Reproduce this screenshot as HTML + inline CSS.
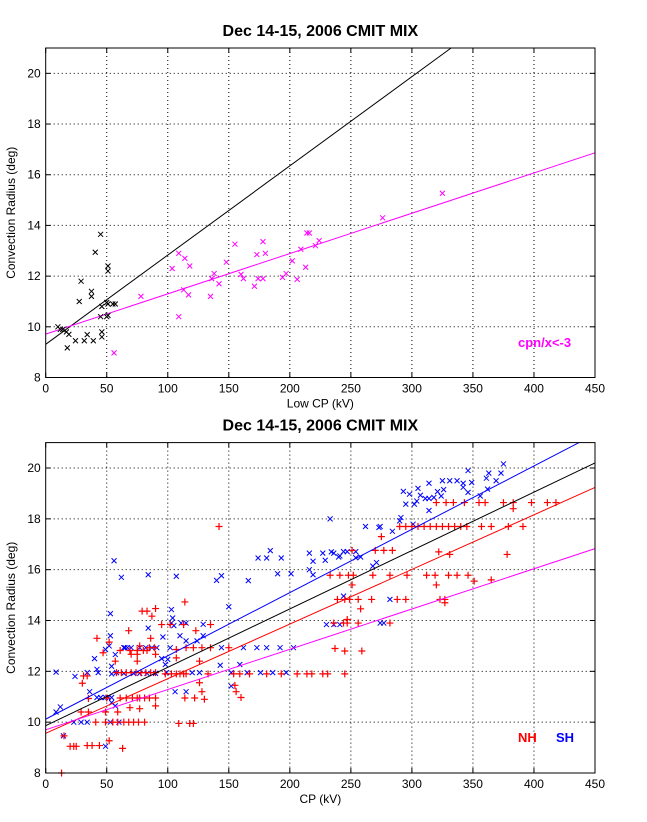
<!DOCTYPE html>
<html><head><meta charset="utf-8"><style>
body{margin:0;background:#fff}
svg{display:block;font-family:"Liberation Sans",Arial,sans-serif}
</style></head><body>
<svg id="c" width="647" height="822"></svg>
<script>
// ---- data ----
const xTicks=[0,50,100,150,200,250,300,350,400,450];
const yTicks=[8,10,12,14,16,18,20];
const topTitle="Dec 14-15, 2006 CMIT MIX";
const botTitle="Dec 14-15, 2006 CMIT MIX";
const topBlackX=[45,40.6,51,51,29,37.5,37.5,27.5,50,46,51,55,57,45,50,51,14,17,19,46,46,34,24.4,31.6,39,17.7,10,12];
const topBlackY=[13.65,12.94,12.4,12.2,11.8,11.4,11.2,11.0,10.96,10.8,10.9,10.9,10.9,10.4,10.4,10.45,9.9,9.8,9.7,9.8,9.6,9.69,9.45,9.45,9.45,9.17,10.0,9.9];
const topMagX=[56,78,103.6,109,114,118,113,117,109,135,136,138,142,148,155,160,162,171,173,178,180,174,178,194,197,202,209,213,206,214,216,221,224,325,276];
const topMagY=[8.97,11.2,12.3,12.9,12.7,12.4,11.46,11.26,10.4,11.2,11.9,12.1,11.7,12.55,13.26,12.07,11.9,11.6,12.85,13.36,12.9,11.9,11.9,11.95,12.1,12.6,13.06,12.35,11.87,13.7,13.7,13.2,13.4,15.27,14.3];
const topBlackLine=[9.31,0.0352];
const topMagLine=[9.71,0.0159];
const blueX=[375,363,361,369,373,346,349,325,331,337,342,342,314,305,293,298,307,311,314,318,321,324,326,295,302,304,314,346,356,362,290,291,262,273,274,284,301,233,234,241,244,247,254,254,258,268,271,244,282,274,277,
184,174,181,193,216,227,229,219,236,240,56,62,84,107,140,144,166,190,201,216,219,150,53,103,104,103,111,115,105,129,84,110,115,124,129,96,53,49,52,40,64,65,67,70,77,82,87,91,102,57,95,98,100,
42,43,54,54,58,64,72,77,83,90,99,120,143,152,165,176,186,197,162,173,181,192,203,230,236,241,152,159,144,126,8.5,24,34,36,42,45,49,51,54,12,8.5,23,29,34,53,60,14.5,49,106,115,54,57];
const blueY=[20.16,19.8,19.6,19.5,19.8,19.9,19.43,19.5,19.5,19.5,19.4,19.24,19.4,19.2,19.08,18.97,18.93,18.8,18.8,18.84,19.07,18.9,19.15,18.58,18.58,18.7,18.33,19.04,18.9,19.17,17.92,18.05,17.7,17.66,17.7,17.51,17.79,18,16.7,16.54,16.71,16.71,16.71,16.47,16.5,16.14,16.28,14.96,14.83,13.9,13.9,
16.75,16.46,16.46,16.46,16.65,16.65,16.37,16.33,16.65,16.5,16.35,15.7,15.8,15.74,15.58,15.76,15.57,15.84,15.84,16,15.8,14.54,14.27,14.43,14.1,13.9,13.9,13.9,13.8,13.85,13.7,13.4,13.2,13.2,13.4,13.35,13.4,12.86,13,12.5,12.93,12.93,12.93,12.93,12.93,12.93,12.93,12.93,12.93,12.66,12.5,12.27,12.47,
12.08,11.95,12.2,11.9,11.95,11.92,11.92,11.92,11.92,11.92,11.95,11.95,12.24,11.95,11.95,11.95,11.95,11.95,12.93,12.93,12.93,12.93,12.93,13.84,13.84,13.84,11.42,12.27,12.93,11.95,11.97,11.8,11.95,11.2,10.97,10.97,10.97,10.97,10.97,10.6,10.4,10.0,10.0,10.0,10.0,10.0,9.46,9.05,11.2,11.2,10.77,10.64];
const redX=[320,328,334,343,355,360,375,383,398,411,418,383,290,295,300,305,310,315,320,325,330,335,340,345,357,365,379,391,275,251,270,277,284,322,331,378,233,241,248,252,268,282,296,312,319,330,337,346,251,320,351,365,239,245,249,256,267,288,295,323,327,258,327,236,244,247,256,282,247,237,245,259,245,
142,114,79,83,90,87,95,102,113,135,123,68,42,52,47,86,77,61,69,75,80,83,85,89,107,115,121,128,135,150,70,75,90,107,126,75,57,31,34,30,58,62,66,70,74,78,82,86,90,98,103,107,110,113,115,133,154,159,167,181,193,206,214,218,227,231,
126,128,130,155,156,160,35,50,61,66,71,75,77,81,85,90,114,122,90,69,77,29,35,49,59,41,49,55,59,64,68,72,76,81,109,118,121,15,20,23,25,34,38,44,52,63,13];
const redY=[18.64,18.64,18.64,18.64,18.64,18.64,18.64,18.64,18.64,18.64,18.64,18.4,17.7,17.7,17.7,17.7,17.7,17.7,17.7,17.7,17.7,17.7,17.7,17.7,17.7,17.7,17.7,17.7,17.3,16.76,16.76,16.76,16.76,16.7,16.6,16.6,15.78,15.78,15.78,15.78,15.78,15.78,15.78,15.78,15.78,15.78,15.78,15.78,15.4,15.4,15.55,15.6,14.83,14.83,14.83,14.83,14.83,14.83,14.83,14.83,14.83,14.46,14.7,13.9,13.9,13.9,13.9,13.9,14.04,12.9,12.8,12.8,11.9,
17.7,14.73,14.37,14.37,14.47,14.17,13.84,13.84,13.84,13.84,13.6,13.6,13.3,13.15,12.73,13.3,13,12.82,12.82,12.82,12.82,12.82,12.93,12.93,12.86,12.93,12.93,12.93,12.93,12.93,12.67,12.67,12.67,12.53,12.4,12.4,12.4,11.82,11.82,11.53,11.95,11.95,11.95,11.95,11.95,11.95,11.95,11.95,11.95,11.9,11.9,11.9,11.9,11.9,11.9,11.9,11.9,11.9,11.9,11.9,11.9,11.9,11.9,11.9,11.9,11.9,
11.55,11.2,10.9,11.45,11.2,10.97,10.93,10.95,10.95,10.95,10.95,10.95,10.95,10.95,10.95,10.95,10.95,10.95,10.64,10.57,10.53,10.4,10.4,10.4,10.4,10,10,10,10,10,10,10,10,10,9.95,9.95,9.95,9.46,9.05,9.05,9.05,9.08,9.08,9.08,9.27,8.97,8.0];
const blueLine=[10.12,0.0249];
const blackLine=[9.86,0.02298];
const redLine=[9.56,0.0215];
const magLine=[9.7,0.01584];

// ---- drawing ----
const NS="http://www.w3.org/2000/svg";
const svg=document.getElementById('c');
function mk(tag,attrs,parent){const e=document.createElementNS(NS,tag);for(const k in attrs)e.setAttribute(k,attrs[k]);(parent||svg).appendChild(e);return e;}
const L=45.7,R=595;
function makeAxes(top,bot){
  const sx=v=>L+(v-0)*(R-L)/450;
  const sy=v=>bot-(v-8)*(bot-top)/13;
  return {sx,sy,top,bot};
}
function drawFrame(ax,name,xlabel,title){
  const g=mk('g',{});
  
  
  mk('rect',{x:L,y:ax.top,width:R-L,height:ax.bot-ax.top,fill:'#fff'},g);
  xTicks.forEach(t=>{const x=ax.sx(t);
    if(t>0&&t<450){const gl=mk('line',{x1:x,x2:x,y1:ax.top,y2:ax.bot,stroke:'#000','stroke-dasharray':'1,3','stroke-width':1},g);
    
    }
    mk('line',{x1:x,x2:x,y1:ax.bot,y2:ax.bot-5,stroke:'#000'},g);
    mk('line',{x1:x,x2:x,y1:ax.top,y2:ax.top+5,stroke:'#000'},g);
    const tx=mk('text',{x:x,y:ax.bot+15,'text-anchor':'middle','font-size':12},g);tx.textContent=t;
    
    
  });
  yTicks.forEach(t=>{const y=ax.sy(t);
    if(t>8){const gl=mk('line',{x1:L,x2:R,y1:y,y2:y,stroke:'#000','stroke-dasharray':'1,3','stroke-width':1},g);
    
    }
    mk('line',{x1:L,x2:L+5,y1:y,y2:y,stroke:'#000'},g);
    mk('line',{x1:R,x2:R-5,y1:y,y2:y,stroke:'#000'},g);
    const tx=mk('text',{x:L-5,y:y+4,'text-anchor':'end','font-size':12},g);tx.textContent=t;
    
    
  });
  const xl=mk('text',{x:(L+R)/2,y:ax.bot+30,'text-anchor':'middle','font-size':12},g);xl.textContent=xlabel;
  
  
  const yl=mk('text',{x:0,y:0,'text-anchor':'middle','font-size':12,transform:`translate(15,${(ax.top+ax.bot)/2}) rotate(-90)`},g);yl.textContent='Convection Radius (deg)';
  
  
  const tt=mk('text',{x:(L+R)/2,y:ax.top-12,'text-anchor':'middle','font-size':16,'font-weight':'bold'},g);tt.textContent=title;
  
  
  return g;
}
function clipLine(ax,coef,color,name,g){
  let x1=0,x2=450;const y=x=>coef[0]+coef[1]*x;
  if(y(x2)>21)x2=(21-coef[0])/coef[1];
  const l=mk('line',{x1:ax.sx(x1),y1:ax.sy(y(x1)),x2:ax.sx(x2),y2:ax.sy(y(x2)),stroke:color,'stroke-width':1},g);
  
  
}
function xMarks(ax,xs,ys,color,name,g){
  xs.forEach((v,i)=>{const x=ax.sx(v),y=ax.sy(ys[i]);
    const p=mk('path',{d:`M${x-2.5},${y-2.5}L${x+2.5},${y+2.5}M${x-2.5},${y+2.5}L${x+2.5},${y-2.5}`,stroke:color,'stroke-width':1,fill:'none'},g);
    
    
  });
}
function plusMarks(ax,xs,ys,color,name,g){
  xs.forEach((v,i)=>{const x=ax.sx(v),y=ax.sy(ys[i]);
    const p=mk('path',{d:`M${x-3.5},${y}L${x+3.5},${y}M${x},${y-3.5}L${x},${y+3.5}`,stroke:color,'stroke-width':1.2,fill:'none'},g);
    
    
  });
}
function border(ax,g){mk('rect',{x:L,y:ax.top,width:R-L,height:ax.bot-ax.top,fill:'none',stroke:'#000'},g);}

// top
const A=makeAxes(48,377.5);
const g1=drawFrame(A,'top-chart','Low CP (kV)',topTitle);
clipLine(A,topBlackLine,'#000','fit-line-all',g1);
clipLine(A,topMagLine,'#ff00ff','fit-line-cpn',g1);
xMarks(A,topBlackX,topBlackY,'#000','point-all',g1);
xMarks(A,topMagX,topMagY,'#ff00ff','point-cpn',g1);
border(A,g1);
const lg=mk('text',{x:518,y:347,'font-size':13,'font-weight':'bold',fill:'#ff00ff'},g1);lg.textContent='cpn/x<-3';



// bottom
const B=makeAxes(442.6,773);
const g2=drawFrame(B,'bottom-chart','CP (kV)',botTitle);
xMarks(B,blueX,blueY,'#0000ff','point-sh',g2);
plusMarks(B,redX,redY,'#ff0000','point-nh',g2);
clipLine(B,blueLine,'#0000ff','fit-line-sh',g2);
clipLine(B,blackLine,'#000','fit-line-all',g2);
clipLine(B,redLine,'#ff0000','fit-line-nh',g2);
clipLine(B,magLine,'#ff00ff','fit-line-cpn',g2);
border(B,g2);
const nh=mk('text',{x:518,y:742,'font-size':13,'font-weight':'bold',fill:'#ff0000'},g2);nh.textContent='NH';


const sh=mk('text',{x:556,y:742,'font-size':13,'font-weight':'bold',fill:'#0000ff'},g2);sh.textContent='SH';


</script>
</body></html>
